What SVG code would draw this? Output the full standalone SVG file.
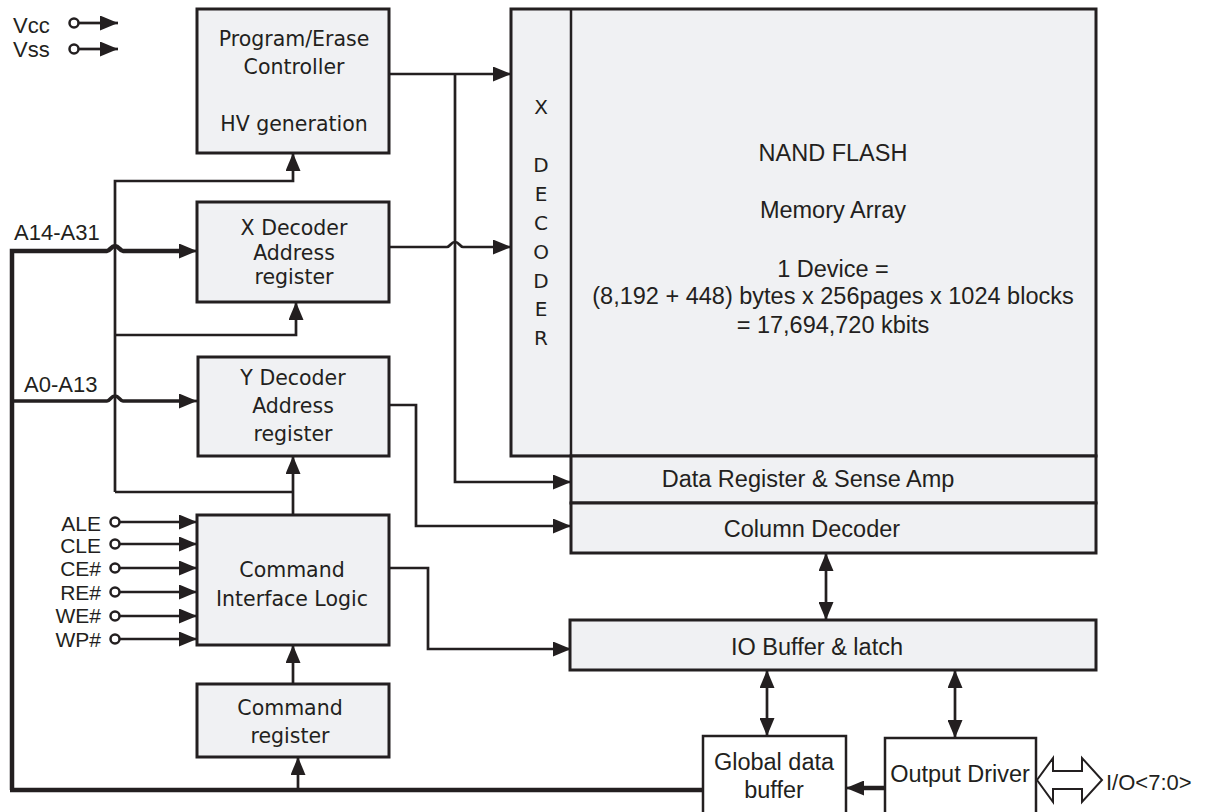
<svg xmlns="http://www.w3.org/2000/svg" width="1206" height="812" viewBox="0 0 1206 812">
<style>
.box{fill:#f0f1f3;stroke:#231f20;stroke-width:3}
.wbox{fill:#ffffff;stroke:#231f20;stroke-width:2.5}
.ln{fill:none;stroke:#231f20;stroke-width:2.7}
.thick{fill:none;stroke:#231f20;stroke-width:4.5}
.mid{fill:none;stroke:#231f20;stroke-width:3.5}
.v{font-family:"DejaVu Sans",Verdana,sans-serif;font-size:20.5px;fill:#231f20;text-anchor:middle}
.a{font-family:"Liberation Sans",Arial,sans-serif;font-size:23.5px;fill:#231f20;text-anchor:middle}
.lbl{font-family:"Liberation Sans",Arial,sans-serif;font-size:22px;fill:#231f20}
.pl{font-family:"Liberation Sans",Arial,sans-serif;font-size:21px;fill:#231f20;text-anchor:end}
.dec{font-family:"DejaVu Sans",Verdana,sans-serif;font-size:20px;fill:#231f20;text-anchor:middle}
.pin{fill:#ffffff;stroke:#231f20;stroke-width:2.5}
</style>
<defs>
<marker id="ah" viewBox="0 0 18 15" refX="18" refY="7.5" markerWidth="18" markerHeight="15" markerUnits="userSpaceOnUse" orient="auto-start-reverse">
<path d="M0,0 L18,7.5 L0,15 z" fill="#231f20"/>
</marker>
</defs>

<g id="connectors">
<path class="ln" d="M389,74 H511" marker-end="url(#ah)"/>
<path class="ln" d="M455,74 V482 H571" marker-end="url(#ah)"/>
<path class="ln" d="M389,247 H447 C450,247 451,242 455,242 C459,242 460,247 463,247 H511" marker-end="url(#ah)"/>
<path class="ln" d="M389,405 H416 V526 H571" marker-end="url(#ah)"/>
<path class="ln" d="M389,568 H428 V649 H571" marker-end="url(#ah)"/>
<path class="ln" d="M115,492 V181 H293 V153" marker-end="url(#ah)"/>
<path class="ln" d="M115,335 H296 V302" marker-end="url(#ah)"/>
<path class="ln" d="M115,492 H293"/>
<path class="ln" d="M293,515 V456" marker-end="url(#ah)"/>
<path class="thick" d="M12,790 V251 H107 C110,251 111,246 115,246 C119,246 120,251 123,251 H183"/>
<path class="ln" d="M180,251 H197" marker-end="url(#ah)"/>
<path class="mid" d="M12,401 H107 C110,401 111,396 115,396 C119,396 120,401 123,401 H183"/>
<path class="ln" d="M180,401 H197" marker-end="url(#ah)"/>
<path class="thick" d="M10,790 H703"/>
<path class="ln" d="M298,790 V757" marker-end="url(#ah)"/>
<path class="ln" d="M293,684 V645" marker-end="url(#ah)"/>
<path class="ln" d="M826,553 V620" marker-start="url(#ah)" marker-end="url(#ah)"/>
<path class="ln" d="M767,670 V736" marker-start="url(#ah)" marker-end="url(#ah)"/>
<path class="ln" d="M955,670 V738" marker-start="url(#ah)" marker-end="url(#ah)"/>
<path class="thick" d="M885,788 H860"/>
<path class="ln" d="M865,788 H846" marker-end="url(#ah)"/>
<path d="M1037,780 L1053,758 V771 H1082 V758 L1102,780 L1082,802 V789 H1053 V802 z" fill="#ffffff" stroke="#231f20" stroke-width="2"/>
<path class="ln" d="M78,23 H101"/>
<path class="ln" d="M100,23 H118" marker-end="url(#ah)"/>
<path class="ln" d="M78,49 H101"/>
<path class="ln" d="M100,49 H118" marker-end="url(#ah)"/>
<circle class="pin" cx="74" cy="23" r="4.5"/>
<circle class="pin" cx="74" cy="49" r="4.5"/>
<path class="ln" d="M119,522 H197" marker-end="url(#ah)"/>
<path class="ln" d="M119,544 H197" marker-end="url(#ah)"/>
<path class="ln" d="M119,568 H197" marker-end="url(#ah)"/>
<path class="ln" d="M119,592 H197" marker-end="url(#ah)"/>
<path class="ln" d="M119,616 H197" marker-end="url(#ah)"/>
<path class="ln" d="M119,639 H197" marker-end="url(#ah)"/>
<circle class="pin" cx="115" cy="522" r="4.5"/>
<circle class="pin" cx="115" cy="544" r="4.5"/>
<circle class="pin" cx="115" cy="568" r="4.5"/>
<circle class="pin" cx="115" cy="592" r="4.5"/>
<circle class="pin" cx="115" cy="616" r="4.5"/>
<circle class="pin" cx="115" cy="639" r="4.5"/>
</g>

<g id="labels">
<text class="lbl" x="13" y="33">Vcc</text>
<text class="lbl" x="13" y="57">Vss</text>
<text class="lbl" x="14" y="240">A14-A31</text>
<text class="lbl" x="24" y="392">A0-A13</text>
<text class="pl" x="101" y="531">ALE</text>
<text class="pl" x="101" y="553">CLE</text>
<text class="pl" x="101" y="576">CE#</text>
<text class="pl" x="101" y="600">RE#</text>
<text class="pl" x="101" y="623">WE#</text>
<text class="pl" x="101" y="647">WP#</text>
<text class="lbl" x="1106" y="790">I/O&lt;7:0&gt;</text>
</g>

<g id="pe-controller">
<rect class="box" x="197" y="9" width="192" height="144"/>
<text class="v" x="294" y="46">Program/Erase</text>
<text class="v" x="294" y="74">Controller</text>
<text class="v" x="294" y="131">HV generation</text>
</g>

<g id="x-decoder-reg">
<rect class="box" x="197" y="202" width="192" height="100"/>
<text class="v" x="294" y="235">X Decoder</text>
<text class="v" x="294" y="260">Address</text>
<text class="v" x="294" y="284">register</text>
</g>

<g id="y-decoder-reg">
<rect class="box" x="198" y="357" width="191" height="99"/>
<text class="v" x="293" y="385">Y Decoder</text>
<text class="v" x="293" y="413">Address</text>
<text class="v" x="293" y="441">register</text>
</g>

<g id="cil">
<rect class="box" x="197" y="515" width="192" height="130"/>
<text class="v" x="292" y="577">Command</text>
<text class="v" x="292" y="606">Interface Logic</text>
</g>

<g id="cmd-reg">
<rect class="box" x="197" y="684" width="192" height="73"/>
<text class="v" x="290" y="715">Command</text>
<text class="v" x="290" y="743">register</text>
</g>

<g id="nand">
<rect class="box" x="511" y="9" width="585" height="447" stroke-width="2.5"/>
<line x1="571" y1="9" x2="571" y2="456" stroke="#231f20" stroke-width="2.5"/>
<text class="dec" x="541" y="114">X</text>
<text class="dec" x="541" y="172">D</text>
<text class="dec" x="541" y="201">E</text>
<text class="dec" x="541" y="230">C</text>
<text class="dec" x="541" y="259">O</text>
<text class="dec" x="541" y="288">D</text>
<text class="dec" x="541" y="316">E</text>
<text class="dec" x="541" y="345">R</text>
<text class="a" x="833" y="161">NAND FLASH</text>
<text class="a" x="833" y="218">Memory Array</text>
<text class="a" x="833" y="277">1 Device =</text>
<text class="a" x="833" y="304">(8,192 + 448) bytes x 256pages x 1024 blocks</text>
<text class="a" x="833" y="333">= 17,694,720 kbits</text>
</g>

<g id="data-register">
<rect class="box" x="571" y="456" width="525" height="47" stroke-width="2.5"/>
<text class="a" x="808" y="487">Data Register &amp; Sense Amp</text>
</g>

<g id="column-decoder">
<rect class="box" x="571" y="503" width="525" height="50" stroke-width="2.5"/>
<text class="a" x="812" y="537">Column Decoder</text>
</g>

<g id="io-buffer">
<rect class="box" x="570" y="620" width="526" height="50" stroke-width="2.5"/>
<text class="a" x="817" y="655">IO Buffer &amp; latch</text>
</g>

<g id="global-buffer">
<rect class="wbox" x="703" y="736" width="143" height="80"/>
<text class="a" x="774" y="770">Global data</text>
<text class="a" x="774" y="798">buffer</text>
</g>

<g id="output-driver">
<rect class="wbox" x="885" y="738" width="151" height="78"/>
<text class="a" x="960" y="782">Output Driver</text>
</g>
</svg>
